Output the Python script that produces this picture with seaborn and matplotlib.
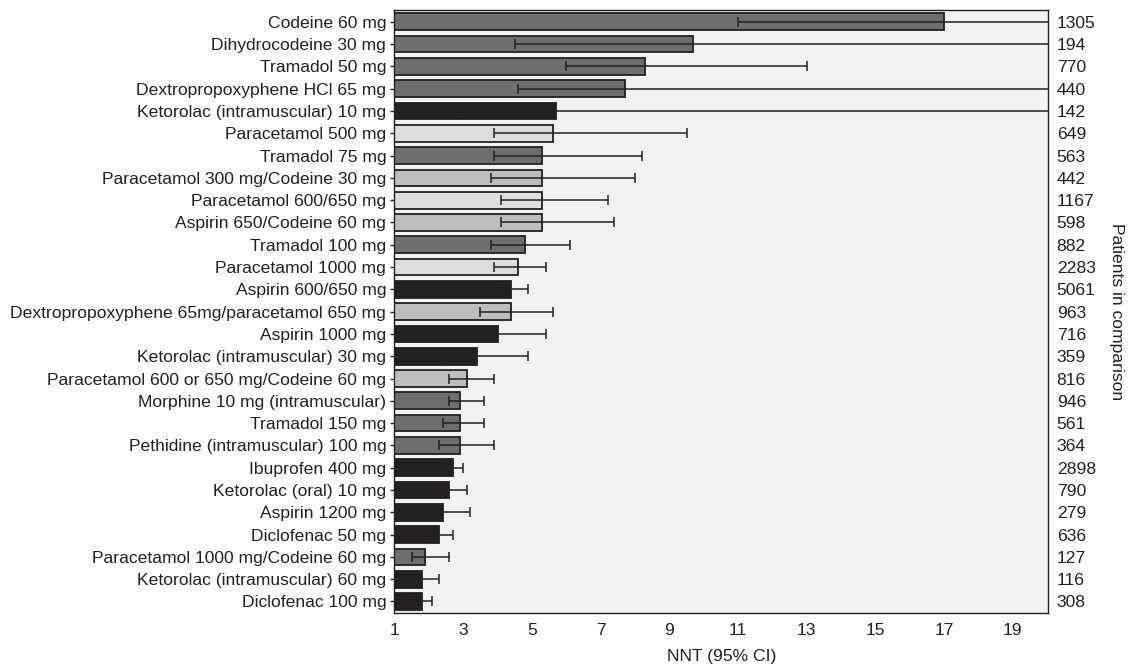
import numpy as np
import pandas as pd
import matplotlib
matplotlib.use("Agg")
import matplotlib.pyplot as plt
import seaborn as sns

# Single-dose analgesics: number needed to treat with 95% confidence interval
drugs = [
    "Codeine 60 mg",
    "Dihydrocodeine 30 mg",
    "Tramadol 50 mg",
    "Dextropropoxyphene HCl 65 mg",
    "Ketorolac (intramuscular) 10 mg",
    "Paracetamol 500 mg",
    "Tramadol 75 mg",
    "Paracetamol 300 mg/Codeine 30 mg",
    "Paracetamol 600/650 mg",
    "Aspirin 650/Codeine 60 mg",
    "Tramadol 100 mg",
    "Paracetamol 1000 mg",
    "Aspirin 600/650 mg",
    "Dextropropoxyphene 65mg/paracetamol 650 mg",
    "Aspirin 1000 mg",
    "Ketorolac (intramuscular) 30 mg",
    "Paracetamol 600 or 650 mg/Codeine 60 mg",
    "Morphine 10 mg (intramuscular)",
    "Tramadol 150 mg",
    "Pethidine (intramuscular) 100 mg",
    "Ibuprofen 400 mg",
    "Ketorolac (oral) 10 mg",
    "Aspirin 1200 mg",
    "Diclofenac 50 mg",
    "Paracetamol 1000 mg/Codeine 60 mg",
    "Ketorolac (intramuscular) 60 mg",
    "Diclofenac 100 mg",
]
nnt = [17.0, 9.7, 8.3, 7.7, 5.7, 5.6, 5.3, 5.3, 5.3, 5.3, 4.8, 4.6, 4.4, 4.4,
       4.0, 3.4, 3.1, 2.9, 2.9, 2.9, 2.7, 2.6, 2.4, 2.3, 1.9, 1.8, 1.8]
ci_low = [11.0, 4.5, 6.0, 4.6, 3.0, 3.9, 3.9, 3.8, 4.1, 4.1, 3.8, 3.9, 4.0, 3.5,
          3.2, 2.5, 2.6, 2.6, 2.4, 2.3, 2.5, 2.3, 1.9, 2.0, 1.5, 1.5, 1.6]
# None marks an interval that is open towards the right
ci_high = [None, None, 13.0, None, None, 9.5, 8.2, 8.0, 7.2, 7.4, 6.1, 5.4, 4.9, 5.6,
           5.4, 4.9, 3.9, 3.6, 3.6, 3.9, 3.0, 3.1, 3.2, 2.7, 2.6, 2.3, 2.1]
patients = [1305, 194, 770, 440, 142, 649, 563, 442, 1167, 598, 882, 2283, 5061, 963,
            716, 359, 816, 946, 561, 364, 2898, 790, 279, 636, 127, 116, 308]
shade = ["dark", "dark", "dark", "dark", "black", "light", "dark", "mid", "light",
         "mid", "dark", "light", "black", "mid", "black", "black", "mid", "dark",
         "dark", "dark", "black", "black", "black", "black", "dark", "black", "black"]
x_ticks = [1, 3, 5, 7, 9, 11, 13, 15, 17, 19]

shade_colors = {"dark": "#6d6e71", "black": "#231f20",
                "light": "#dcdddf", "mid": "#bcbdc0"}
ink = "#231f20"
x_min, x_max = 1, 20.03
fs = 12.6

df = pd.DataFrame({"drug": drugs, "nnt": nnt, "low": ci_low,
                   "high": [np.nan if h is None else h for h in ci_high],
                   "shade": shade})

sns.set_style("white")
plt.rcParams["font.family"] = ["Liberation Sans", "DejaVu Sans"]
plt.rcParams["text.color"] = ink
plt.rcParams["axes.labelcolor"] = ink
plt.rcParams["xtick.color"] = ink
plt.rcParams["ytick.color"] = ink

fig = plt.figure(figsize=(11.31, 6.67), dpi=100)
ax = fig.add_axes([0.3488, 0.0805, 0.9269 - 0.3488, 0.985 - 0.0805])
ax.set_facecolor("#f1f2f4")

palette = [shade_colors[s] for s in df["shade"]]
sns.barplot(data=df, x="nnt", y="drug", hue="drug", palette=palette,
            legend=False, orient="h", width=0.75, edgecolor=ink,
            linewidth=1.3, ax=ax)

# Confidence intervals; open-ended ones run past the right edge
ypos = np.arange(len(df))
hi = df["high"].fillna(x_max * 3).to_numpy()
lo = df["low"].to_numpy()
vals = df["nnt"].to_numpy()
ax.errorbar(vals, ypos, xerr=[vals - lo, hi - vals], fmt="none",
            ecolor=ink, elinewidth=1.1, capsize=3.3, capthick=1.1, zorder=5)

ax.set_xlim(x_min, x_max)
ax.set_ylim(len(df) - 0.47, -0.53)
ax.set_xticks(x_ticks)
ax.set_xticklabels([str(t) for t in x_ticks], fontsize=fs)
ax.set_yticks(ypos)
ax.set_yticklabels(drugs, fontsize=fs)
ax.set_ylabel("")
ax.set_xlabel("NNT (95% CI)", fontsize=fs, labelpad=8)
ax.tick_params(axis="x", direction="in", length=5, width=1, pad=7)
ax.tick_params(axis="y", direction="out", length=3, width=1, pad=3)
for sp in ax.spines.values():
    sp.set_visible(True)
    sp.set_color(ink)
    sp.set_linewidth(1.0)

# Patient counts on the right-hand side
ax2 = ax.twinx()
ax2.set_ylim(ax.get_ylim())
ax2.set_yticks(ypos)
ax2.set_yticklabels([str(p) for p in patients], fontsize=fs)
ax2.tick_params(axis="y", length=0, pad=6)
ax2.set_ylabel("Patients in comparison", fontsize=fs, rotation=270, labelpad=20)
for sp in ax2.spines.values():
    sp.set_visible(False)

fig.savefig("out.png", dpi=100)
